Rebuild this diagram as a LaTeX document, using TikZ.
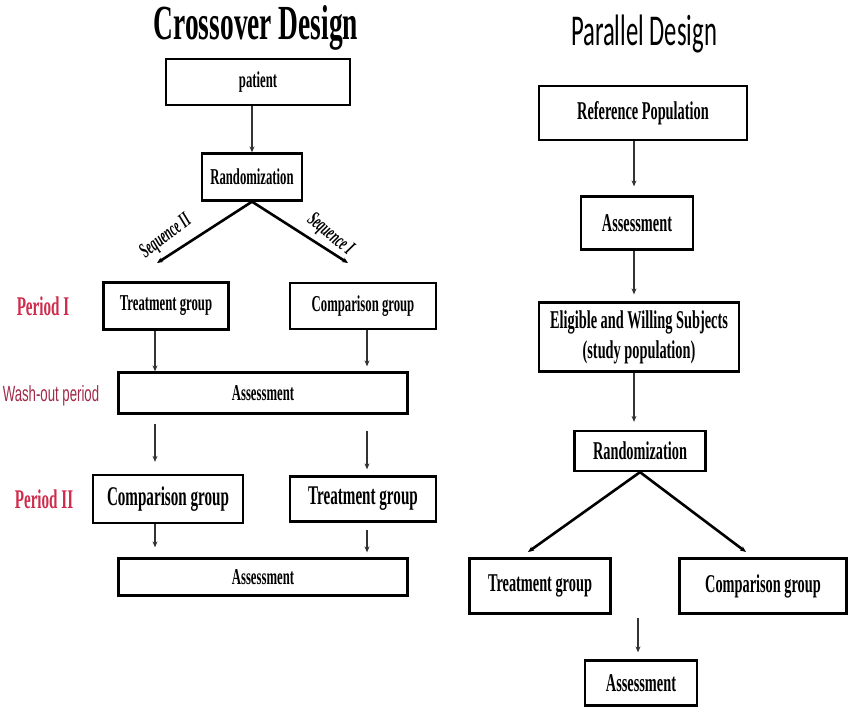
\documentclass[tikz,border=0pt]{standalone}
\usepackage{fontspec}
\usepackage{xcolor}
\usepackage{tikz}
\usetikzlibrary{positioning,arrows.meta}

\newfontfamily\boxfont[FakeStretch=0.56]{Liberation Serif}
\newfontfamily\paralfont[FakeStretch=0.56]{Carlito}
\newfontfamily\washfont[FakeStretch=0.6]{Liberation Sans}
\definecolor{periodred}{RGB}{206,44,76}
\definecolor{washred}{RGB}{160,42,72}

\begin{document}
\begin{tikzpicture}[x=1pt, y=-1pt,
    >={Stealth[length=6pt,width=5pt]},
    box/.style={draw, line width=2.3pt, inner sep=0pt, align=center,
      font=\boxfont\bfseries\fontsize{22.7}{26}\selectfont},
    bigbox/.style={box, font=\boxfont\bfseries\fontsize{27}{31}\selectfont},
    rbox/.style={box, font=\boxfont\bfseries\fontsize{25.6}{30}\selectfont},
    boxsize/.style 2 args={minimum width=#1pt, minimum height=#2pt},
    arr/.style={->, line width=1.2pt, draw=black!80},
    split/.style={->, line width=2.6pt},
    period/.style={text=periodred, anchor=base,
      font=\boxfont\bfseries\fontsize{27}{31}\selectfont},
    seqlab/.style={inner sep=1pt, font=\boxfont\bfseries\itshape\fontsize{21}{24}\selectfont}]
                \useasboundingbox (0,0) rectangle (848,707);

                % crossover design
                \node (crossTitle) [anchor=base, font=\boxfont\bfseries\fontsize{49}{54}\selectfont] at (256,39) {Crossover Design};
                \node (patient) [box, boxsize={184}{46}] at (258,82) {patient};
                \node (randA) [box, boxsize={100}{47}] at (252,177) {Randomization};
                \coordinate (seqEndL) at (157,263);
                \coordinate (seqEndR) at (348,263);
                \node (seqII) [seqlab, rotate=37] at (166,237) {Sequence II};
                \node (seqI) [seqlab, rotate=-40] at (330,235) {Sequence I};
                \node (periodA) [period] at (43,315) {Period I};
                \node (treatA) [box, boxsize={125}{47}] at (166,306) {Treatment group};
                \node (compA) [box, boxsize={146}{46}] at (363,306) {Comparison group};
                \node (washLabel) [anchor=base, text=washred, font=\washfont\fontsize{22}{26}\selectfont] at (51,401) {Wash-out period};
                \node (washA) [box, boxsize={289}{41}] at (263,393) {Assessment};
                \node (periodB) [period] at (44,508) {Period II};
                \node (compB) [bigbox, boxsize={150}{48}] at (168,499) {Comparison group};
                \node (treatB) [bigbox, boxsize={146}{45}] at (363,499) {Treatment group};
                \node (assessA) [box, boxsize={289}{37}] at (263,577) {Assessment};
                \coordinate (colL) at (155,0);
                \coordinate (colR) at (367,0);

                \draw[arr] (patient.south -| randA.north) -- (randA.north);
                \draw[split] (randA.south) -- (seqEndL);
                \draw[split] (randA.south) -- (seqEndR);
                \draw[arr] (treatA.south -| colL) -- (washA.north -| colL);
                \draw[arr, shorten >=5pt] (compA.south -| colR) -- (washA.north -| colR);
                \draw[arr, shorten <=9pt, shorten >=12pt] (washA.south -| colL) -- (compB.north -| colL);
                \draw[arr, shorten <=16pt, shorten >=6pt] (washA.south -| colR) -- (treatB.north -| colR);
                \draw[arr, shorten >=10pt] (compB.south -| colL) -- (assessA.north -| colL);
                \draw[arr, shorten <=7pt, shorten >=5pt] (treatB.south -| colR) -- (assessA.north -| colR);

                % parallel design
                \node (paralTitle) [anchor=base, font=\paralfont\fontsize{44}{50}\selectfont] at (644,45) {Parallel Design};
                \node (refPop) [rbox, boxsize={208}{54}, line width=2.6pt] at (643,113) {Reference Population};
                \node (assessP) [rbox, boxsize={112}{53}] at (637,223) {Assessment};
                \node (subjects) [rbox, boxsize={200}{69}] at (639,337) {Eligible and Willing Subjects\\(study population)};
                \node (randP) [rbox, boxsize={131}{40}] at (640,451) {Randomization};
                \coordinate (splitEndL) at (528,552);
                \coordinate (splitEndR) at (746,552);
                \node (treatP) [rbox, boxsize={141}{55}] at (540,586) {Treatment group};
                \node (compP) [rbox, boxsize={167}{55}] at (763,586) {Comparison group};
                \node (assessP2) [rbox, boxsize={112}{45}] at (641,683) {Assessment};
                \coordinate (colP) at (634,0);
                \coordinate (joinP) at (638,618);

                \draw[arr, shorten >=9pt] (refPop.south -| colP) -- (assessP.north -| colP);
                \draw[arr, shorten >=7pt] (assessP.south -| colP) -- (subjects.north -| colP);
                \draw[arr, shorten >=8pt] (subjects.south -| colP) -- (randP.north -| colP);
                \draw[split] (randP.south) -- (splitEndL);
                \draw[split] (randP.south) -- (splitEndR);
                \draw[arr, shorten >=7pt] (joinP) -- (joinP |- assessP2.north);
            \end{tikzpicture}
\end{document}
